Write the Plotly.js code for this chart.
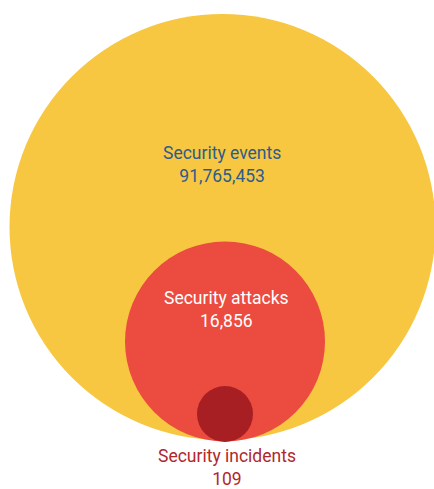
<!DOCTYPE html>
<html>
<head>
<meta charset="utf-8">
<script src="https://cdn.plot.ly/plotly-3.0.1.min.js"></script>
<style>html,body{margin:0;padding:0;background:#fff;}#chart{width:434px;height:489px;}</style>
</head>
<body>
<div id="chart"></div>
<script>
// Data
var categories = ["Security events", "Security attacks", "Security incidents"];
var values = [91765453, 16856, 109];

// Layout geometry (pixel-like coordinates)
var circles = [
  {cx: 222.5, cy: 227, r: 213, color: "#F7C742"},
  {cx: 225, cy: 341.5, r: 100, color: "#EC4B3F"},
  {cx: 225, cy: 414, r: 28, color: "#A71F23"}
];
var labelPos = [
  {x: 222, y: 164, color: "#2E5C8A"},
  {x: 226, y: 309.5, color: "#FFFFFF"},
  {x: 227, y: 467, color: "#B0282D"}
];

function fmt(n) { return n.toString().replace(/\B(?=(\d{3})+(?!\d))/g, ","); }

var shapes = circles.map(function (c) {
  return {type: "circle", xref: "x", yref: "y",
    x0: c.cx - c.r, x1: c.cx + c.r, y0: c.cy - c.r, y1: c.cy + c.r,
    fillcolor: c.color, line: {width: 0}, layer: "below"};
});
var annotations = categories.map(function (cat, i) {
  return {x: labelPos[i].x, y: labelPos[i].y, xref: "x", yref: "y",
    text: cat + "<br>" + fmt(values[i]), showarrow: false,
    font: {family: "Roboto, sans-serif", size: 17.5, color: labelPos[i].color},
    align: "center", xanchor: "center", yanchor: "middle", borderpad: 0};
});

var trace = {x: [0], y: [0], mode: "markers", marker: {opacity: 0}, hoverinfo: "skip", showlegend: false};

var layout = {
  width: 434, height: 489,
  margin: {l: 0, r: 0, t: 0, b: 0},
  paper_bgcolor: "#ffffff", plot_bgcolor: "#ffffff",
  xaxis: {range: [0, 434], visible: false, fixedrange: true},
  yaxis: {range: [489, 0], visible: false, fixedrange: true},
  shapes: shapes, annotations: annotations, showlegend: false
};
Plotly.newPlot("chart", [trace], layout, {displayModeBar: false, staticPlot: true});
</script>
</body>
</html>
